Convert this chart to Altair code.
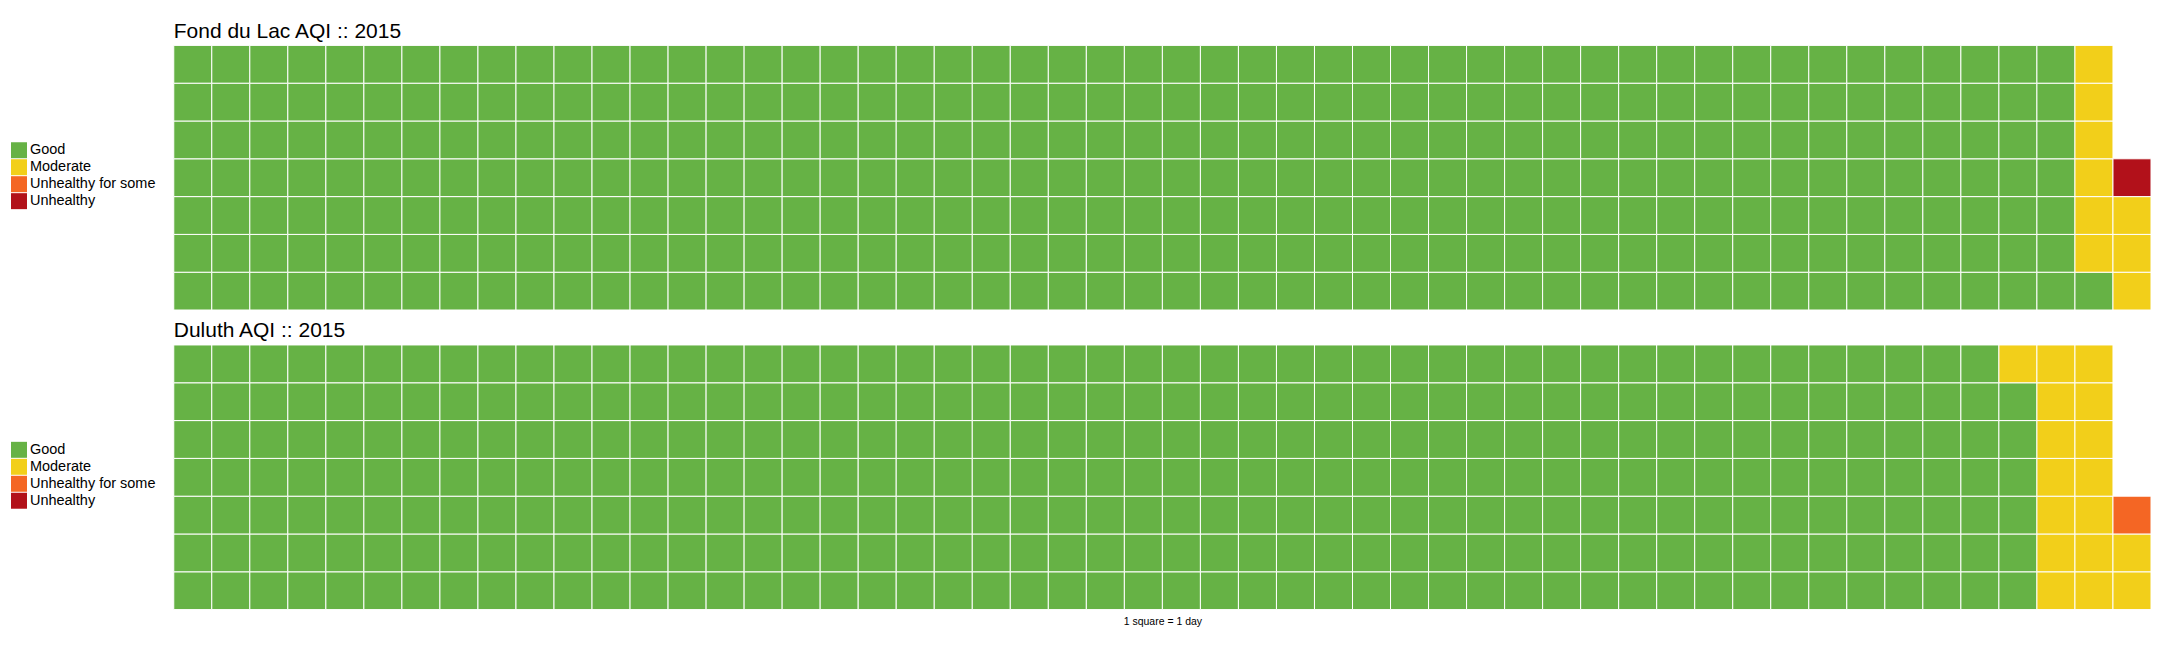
import altair as alt
import pandas as pd

categories = ["Good", "Moderate", "Unhealthy for some", "Unhealthy"]
colors = ["#66B245", "#F2CF1A", "#F46624", "#B2111A"]
fond_du_lac_days = [351, 9, 0, 1]
duluth_days = [342, 17, 1, 0]
titles = ["Fond du Lac AQI :: 2015", "Duluth AQI :: 2015"]
caption = "1 square = 1 day"
n_rows = 7
n_cols = 52

FONT = "Liberation Sans"


def waffle_table(counts):
    recs = []
    i = 0
    for cat, n in zip(categories, counts):
        for _ in range(n):
            recs.append({"col": i // n_rows, "row": n_rows - 1 - (i % n_rows), "cat": cat})
            i += 1
    return pd.DataFrame(recs)


def panel(counts, title, cap=None):
    df = waffle_table(counts)
    if cap:
        xaxis = alt.Axis(labels=False, ticks=False, domain=False, grid=False, title=cap,
                         titleFontSize=10.5, titleFontWeight="normal", titleColor="#000",
                         titlePadding=7, titleFont=FONT)
    else:
        xaxis = None
    return alt.Chart(
        df,
        title=alt.TitleParams(title, anchor="start", frame="group", fontSize=21, font=FONT,
                              fontWeight="normal", color="#000", offset=3),
    ).mark_rect(stroke="white", strokeWidth=1).encode(
        x=alt.X("col:O", scale=alt.Scale(domain=list(range(n_cols)), paddingInner=0, paddingOuter=0), axis=xaxis),
        y=alt.Y("row:O", scale=alt.Scale(domain=list(range(n_rows)), paddingInner=0, paddingOuter=0), axis=None),
        color=alt.Color(
            "cat:N",
            scale=alt.Scale(domain=categories, range=colors),
            legend=alt.Legend(title=None, orient="none", legendX=-163, legendY=97, symbolType="square",
                              symbolSize=256, symbolStrokeWidth=0, labelFontSize=14.5, labelFont=FONT,
                              labelColor="#000", rowPadding=1, labelOffset=3, padding=0, symbolOpacity=1),
        ),
    ).properties(width=1980, height=265)


top = panel(fond_du_lac_days, titles[0])
bottom = panel(duluth_days, titles[1], caption)

chart = (
    alt.vconcat(top, bottom, spacing=9)
    .resolve_scale(color="independent")
    .resolve_legend(color="independent")
    .properties(padding={"left": 3, "top": 12, "right": 0, "bottom": 0})
    .configure_view(strokeWidth=0)
)

chart.save("out.html", embed_options={"renderer": "svg", "actions": False})
